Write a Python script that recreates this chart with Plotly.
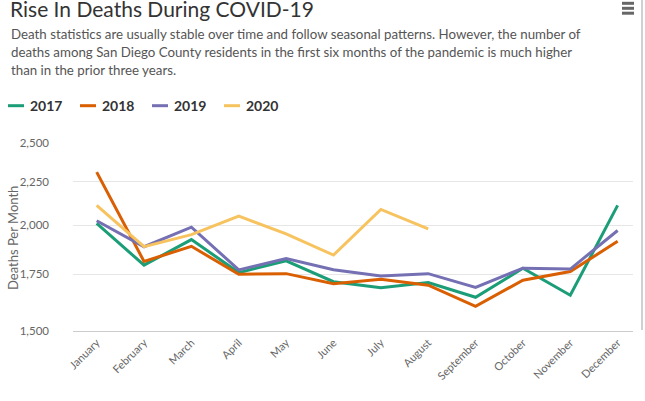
import plotly.graph_objects as go

months = ["January", "February", "March", "April", "May", "June", "July",
          "August", "September", "October", "November", "December"]
years = ["2017", "2018", "2019", "2020"]
deaths_2017 = [2009, 1794, 1923, 1758, 1815, 1715, 1687, 1711, 1644, 1779, 1653, 2110]
deaths_2018 = [2310, 1812, 1888, 1750, 1753, 1706, 1726, 1699, 1604, 1722, 1763, 1914]
deaths_2019 = [2024, 1886, 1989, 1771, 1827, 1772, 1742, 1753, 1689, 1779, 1775, 1971]
deaths_2020 = [2110, 1886, 1949, 2050, 1953, 1844, 2087, 1980]
y_ticks = [1500, 1750, 2000, 2250, 2500]

title_text = "Rise In Deaths During COVID-19"
y_title = "Deaths Per Month"
desc_lines = [
    "Death statistics are usually stable over time and follow seasonal patterns. However, the number of",
    "deaths among San Diego County residents in the first six months of the pandemic is much higher",
    "than in the prior three years.",
]

series = [deaths_2017, deaths_2018, deaths_2019, deaths_2020]
colors = ["#1b9e77", "#d95f02", "#7570b3", "#f7c35f"]

W, H = 645, 401
L, R, T, B = 73, 12, 143, 70
PW, PH = W - L - R, H - T - B


def px(x):
    return (x - L) / PW


def py(y):
    return (H - B - y) / PH


fig = go.Figure()
for name, vals, col in zip(years, series, colors):
    fig.add_trace(go.Scatter(
        x=months[:len(vals)], y=vals, mode="lines", name=name,
        line=dict(color=col, width=3), showlegend=False,
    ))

annotations = [
    dict(text=title_text, x=px(9), y=py(22), xref="paper", yref="paper",
         xanchor="left", yanchor="bottom", showarrow=False, borderpad=0,
         font=dict(family="Lato", size=21, color="#333333")),
    dict(text=y_title, x=px(13), y=py(238), xref="paper", yref="paper",
         xanchor="center", yanchor="middle", textangle=-90, showarrow=False,
         font=dict(family="Lato", size=13, color="#666666")),
]
for i, line in enumerate(desc_lines):
    annotations.append(dict(text=line, x=px(9), y=py(34 + 18 * i), xref="paper", yref="paper",
                            xanchor="left", yanchor="middle", showarrow=False,
                            font=dict(family="Lato", size=13.3, color="#555555")))
shapes = []
for i, (name, col) in enumerate(zip(years, colors)):
    x0 = 8 + 72 * i
    shapes.append(dict(type="line", xref="paper", yref="paper", x0=px(x0), x1=px(x0 + 16),
                       y0=py(105.7), y1=py(105.7), line=dict(color=col, width=3)))
    annotations.append(dict(text="<b>%s</b>" % name, x=px(x0 + 20), y=py(105.7), xref="paper", yref="paper",
                            xanchor="left", yanchor="middle", showarrow=False,
                            font=dict(family="Lato", size=14, color="#333333")))

# hamburger menu icon
for yy in [3.3, 8.3, 13.2]:
    shapes.append(dict(type="line", xref="paper", yref="paper", x0=px(622), x1=px(634),
                       y0=py(yy), y1=py(yy), line=dict(color="#666666", width=3)))
# right scrollbar edge
shapes.append(dict(type="line", xref="paper", yref="paper", x0=px(642), x1=px(642),
                   y0=py(0), y1=py(330), line=dict(color="#d0d0d0", width=2)))

fig.update_layout(
    template="none",
    width=W, height=H,
    margin=dict(l=L, r=R, t=T, b=B, autoexpand=False),
    paper_bgcolor="white", plot_bgcolor="white",
    annotations=annotations, shapes=shapes,
    xaxis=dict(type="category", range=[-0.5, -0.5 + PW / 47.36], tickangle=-45,
               automargin=False,
               showgrid=False, showline=True, linecolor="#cccccc", linewidth=1,
               ticks="", tickfont=dict(family="Lato", size=11, color="#666666"),
               fixedrange=True),
    yaxis=dict(type="log", range=[3.176091259, 3.397940009], automargin=False,
               tickvals=y_ticks, ticktext=[f"{v:,}" for v in y_ticks],
               showgrid=True, gridcolor="#e6e6e6", gridwidth=1, zeroline=False,
               showline=False,
               ticks="", ticklabelstandoff=23,
               tickfont=dict(family="Lato", size=11.5, color="#666666"),
               fixedrange=True),
    font=dict(family="Lato"),
    hovermode="closest",
)

fig.write_html("out.html", config={"displayModeBar": False},
               post_script="document.body.style.margin='0';document.body.style.overflow='hidden';")
